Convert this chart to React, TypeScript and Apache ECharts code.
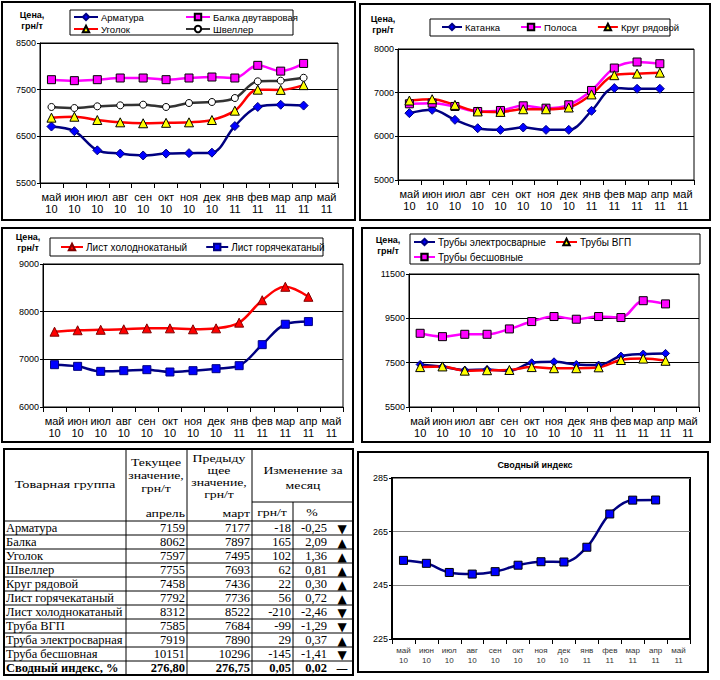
import React, { useEffect, useRef } from 'react';
import * as echarts from 'echarts';

const months = ['май\n10', 'июн\n10', 'июл\n10', 'авг\n10', 'сен\n10', 'окт\n10', 'ноя\n10', 'дек\n10', 'янв\n11', 'фев\n11', 'мар\n11', 'апр\n11', 'май\n11'];

// Panel 1
const armatura = [6710, 6610, 6200, 6130, 6090, 6130, 6140, 6150, 6720, 7130, 7177, 7159];
const balka = [7714, 7693, 7714, 7750, 7750, 7714, 7750, 7771, 7750, 8021, 7897, 8062];
const ugolok = [6900, 6920, 6850, 6800, 6780, 6790, 6800, 6850, 7050, 7500, 7495, 7597];
const shveller = [7129, 7107, 7143, 7164, 7179, 7129, 7214, 7236, 7321, 7679, 7693, 7755];
// Panel 2
const katanka = [6531, 6607, 6378, 6186, 6148, 6202, 6148, 6148, 6584, 7105, 7089, 7089];
const polosa = [6745, 6760, 6684, 6569, 6592, 6699, 6645, 6722, 7051, 7564, 7702, 7663];
const krug = [6820, 6850, 6720, 6570, 6560, 6620, 6620, 6660, 6960, 7400, 7436, 7458];
// Panel 3
const listCold = [7580, 7610, 7620, 7630, 7650, 7650, 7630, 7650, 7770, 8240, 8522, 8312];
const listHot = [6888, 6853, 6748, 6762, 6783, 6734, 6762, 6804, 6867, 7308, 7736, 7792];
// Panel 4
const trubyElektro = [7420, 7314, 7163, 7193, 7133, 7495, 7540, 7420, 7390, 7797, 7890, 7919];
const trubyVGP = [7300, 7330, 7140, 7160, 7170, 7300, 7250, 7250, 7290, 7620, 7684, 7585];
const trubyBesh = [8825, 8674, 8780, 8780, 9022, 9354, 9581, 9460, 9581, 9535, 10296, 10151];
// Panel 6
const svodny = [254.3, 253.2, 249.8, 249.2, 250.1, 252.5, 253.8, 253.7, 259.2, 271.6, 276.75, 276.8];

// Table
const tableGroups = ['Арматура', 'Балка', 'Уголок', 'Швеллер', 'Круг рядовой', 'Лист горячекатаный', 'Лист холоднокатаный', 'Труба ВГП', 'Труба электросварная', 'Труба бесшовная', 'Сводный индекс, %'];
const tableCurrent = ['7159', '8062', '7597', '7755', '7458', '7792', '8312', '7585', '7919', '10151', '276,80'];
const tablePrev = ['7177', '7897', '7495', '7693', '7436', '7736', '8522', '7684', '7890', '10296', '276,75'];
const tableDiff = ['-18', '165', '102', '62', '22', '56', '-210', '-99', '29', '-145', '0,05'];
const tablePct = ['-0,25', '2,09', '1,36', '0,81', '0,30', '0,72', '-2,46', '-1,29', '0,37', '-1,41', '0,02'];
const tableTrend = ['▼', '▲', '▲', '▲', '▲', '▲', '▼', '▼', '▲', '▼', '—'];

const SANS = "'Liberation Sans', Arial, sans-serif";
const SERIF = "'Liberation Serif', 'Times New Roman', serif";

const NAVY = '#000080';
const BLUE = '#0000ff';
const MAG = '#ff00ff';
const RED = '#ff0000';
const YEL = '#ffff00';

function mkSeries(name: string, data: number[], idx: number, lineColor: string, symbol: string, fill: string, border: string, size: number) {
  return {
    name,
    type: 'line',
    data,
    xAxisIndex: idx,
    yAxisIndex: idx,
    smooth: 0.35,
    symbol,
    symbolSize: size,
    lineStyle: { color: lineColor, width: 2.5 },
    itemStyle: { color: fill, borderColor: border, borderWidth: 1 },
    emphasis: { disabled: true },
  };
}

function mkGrid(left: number, top: number, width: number, height: number, thick = false) {
  return { left, top, width, height, show: true, borderColor: '#000', borderWidth: thick ? 2 : 1, backgroundColor: 'transparent', containLabel: false };
}

function mkX(idx: number, small = false) {
  return {
    type: 'category',
    gridIndex: idx,
    data: months,
    boundaryGap: true,
    axisLine: { lineStyle: { color: '#000', width: small ? 2 : 1 } },
    axisTick: { show: true, interval: 0, length: 5, lineStyle: { color: '#000' } },
    axisLabel: {
      interval: 0,
      fontFamily: SANS,
      fontSize: small ? 8 : 11,
      lineHeight: small ? 10 : 12,
      color: small ? '#333' : '#000',
      margin: small ? 6 : 8,
    },
    splitLine: { show: false },
  };
}

function mkY(idx: number, min: number, max: number, interval: number, gridColor = '#000', small = false) {
  return {
    type: 'value',
    gridIndex: idx,
    min,
    max,
    interval,
    axisLine: { show: true, lineStyle: { color: '#000', width: small ? 2 : 1 } },
    axisTick: { show: true, length: 3, lineStyle: { color: '#000' } },
    axisLabel: { fontFamily: SANS, fontSize: 9, color: '#000', margin: 4, formatter: (v: number) => String(v) },
    splitLine: { show: true, lineStyle: { color: gridColor, width: 1 } },
  };
}

function legend(left: number, top: number, data: string[], orient: 'vertical' | 'horizontal', itemWidth: number, itemGap: number, fontSize: number) {
  return {
    left,
    top,
    orient,
    data,
    itemWidth,
    itemHeight: 8,
    itemGap,
    selectedMode: false,
    padding: 0,
    textStyle: { fontFamily: SANS, fontSize, color: '#000', lineHeight: 12, padding: [0, 0, 0, -2] },
  };
}

function rect(x: number, y: number, w: number, h: number, lw: number) {
  return { type: 'rect', shape: { x, y, width: w, height: h }, style: { fill: 'none', stroke: '#000', lineWidth: lw }, silent: true };
}

function hline(x1: number, x2: number, y: number, lw = 1) {
  return { type: 'line', shape: { x1, y1: y, x2, y2: y }, style: { stroke: '#000', lineWidth: lw }, silent: true };
}
function vline(x: number, y1: number, y2: number, lw = 1) {
  return { type: 'line', shape: { x1: x, y1, x2: x, y2 }, style: { stroke: '#000', lineWidth: lw }, silent: true };
}

function txt(text: string, x: number, y: number, font: string, align: string, valign: string, lineHeight?: number, scaleX = 1) {
  return {
    type: 'text',
    x,
    y,
    scaleX,
    silent: true,
    style: {
      text,
      font,
      fill: '#000',
      textAlign: align,
      align,
      textVerticalAlign: valign,
      verticalAlign: valign,
      lineHeight,
    },
  };
}

function buildTable() {
  const els: any[] = [];
  const colX = [4, 126, 187, 252, 293, 353];
  const top = 449;
  const subTop = 502;
  const headBottom = 521;
  const rowH = 14;
  const bottom = headBottom + tableGroups.length * rowH;
  els.push(rect(colX[0], top, colX[5] - colX[0], bottom - top, 2));
  els.push(vline(colX[1], top, bottom));
  els.push(vline(colX[2], top, bottom));
  els.push(vline(colX[3], top, bottom));
  els.push(vline(colX[4], subTop, bottom));
  els.push(hline(colX[3], colX[5], subTop));
  els.push(hline(colX[0], colX[5], headBottom));
  for (let i = 1; i < tableGroups.length; i++) {
    els.push(hline(colX[0], colX[5], headBottom + i * rowH));
  }
  const hf = `11px ${SERIF}`;
  const sx = 1.25;
  els.push(txt('Товарная группа', 65, 485, hf, 'center', 'middle', undefined, 1.3));
  els.push(txt('Текущее\nзначение,\nгрн/т', 156, 456, hf, 'center', 'top', 13, sx));
  els.push(txt('апрель', 185, 513, hf, 'right', 'middle', undefined, sx));
  els.push(txt('Предыду\nщее\nзначение,\nгрн/т', 219, 452, hf, 'center', 'top', 12, sx));
  els.push(txt('март', 250, 513, hf, 'right', 'middle', undefined, sx));
  els.push(txt('Изменение за\nмесяц', 303, 463, hf, 'center', 'top', 15, sx));
  els.push(txt('грн/т', 272, 512, hf, 'center', 'middle', undefined, sx));
  els.push(txt('%', 312, 512, hf, 'center', 'middle', undefined, sx));
  for (let i = 0; i < tableGroups.length; i++) {
    const y = headBottom + i * rowH + 7.5;
    const last = i === tableGroups.length - 1;
    const f = `${last ? 'bold ' : ''}12px ${SERIF}`;
    const s = 1.04;
    els.push(txt(tableGroups[i], 6, y, f, 'left', 'middle', undefined, s));
    els.push(txt(tableCurrent[i], 185, y, f, 'right', 'middle', undefined, s));
    els.push(txt(tablePrev[i], 250, y, f, 'right', 'middle', undefined, s));
    els.push(txt(tableDiff[i], 291, y, f, 'right', 'middle', undefined, s));
    els.push(txt(tablePct[i], 327, y, f, 'right', 'middle', undefined, s));
    els.push(txt(tableTrend[i], 342, y, `12px 'DejaVu Sans', sans-serif`, 'center', 'middle'));
  }
  return els;
}

export default function App() {
  const ref = useRef<HTMLDivElement>(null);
  useEffect(() => {
    if (!ref.current) return;
    const chart = echarts.init(ref.current, null, { renderer: 'svg' });
    const labelFont = `bold 9px ${SANS}`;
    const option: any = {
      animation: false,
      backgroundColor: '#fff',
      grid: [
        mkGrid(40, 43, 298, 140),
        mkGrid(398, 49, 296, 131),
        mkGrid(43, 264, 300, 143),
        mkGrid(409, 274, 290, 133),
        mkGrid(392, 478, 298, 161, true),
      ],
      xAxis: [mkX(0), mkX(1), mkX(2), mkX(3), mkX(4, true)],
      yAxis: [
        mkY(0, 5500, 8500, 1000),
        mkY(1, 5000, 8000, 1000),
        mkY(2, 6000, 9000, 1000),
        mkY(3, 5500, 11500, 2000),
        mkY(4, 225, 285, 20, '#808080', true),
      ],
      legend: [
        legend(73, 11, ['Арматура', 'Уголок'], 'vertical', 24, 0, 9.5),
        legend(185, 11, ['Балка двутавровая', 'Швеллер'], 'vertical', 24, 0, 9.5),
        legend(441, 21, ['Катанка', 'Полоса', 'Круг рядовой'], 'horizontal', 20, 20, 9.5),
        legend(60, 241, ['Лист холоднокатаный', 'Лист горячекатаный'], 'horizontal', 22, 18, 10),
        legend(413, 236, ['Трубы электросварные', 'Трубы бесшовные'], 'vertical', 21, 3, 10),
        legend(555, 236, ['Трубы ВГП'], 'vertical', 21, 3, 10),
      ],
      series: [
        mkSeries('Арматура', armatura, 0, NAVY, 'diamond', BLUE, NAVY, 9),
        mkSeries('Балка двутавровая', balka, 0, MAG, 'rect', MAG, '#000', 8),
        mkSeries('Уголок', ugolok, 0, RED, 'triangle', YEL, '#000', 9),
        mkSeries('Швеллер', shveller, 0, '#333333', 'circle', '#fff', '#000', 7),
        mkSeries('Катанка', katanka, 1, NAVY, 'diamond', BLUE, NAVY, 9),
        mkSeries('Полоса', polosa, 1, MAG, 'rect', MAG, '#000', 8),
        mkSeries('Круг рядовой', krug, 1, RED, 'triangle', YEL, '#000', 9),
        mkSeries('Лист холоднокатаный', listCold, 2, RED, 'triangle', RED, '#800000', 9),
        mkSeries('Лист горячекатаный', listHot, 2, NAVY, 'rect', BLUE, NAVY, 8),
        mkSeries('Трубы электросварные', trubyElektro, 3, NAVY, 'diamond', BLUE, NAVY, 8),
        mkSeries('Трубы ВГП', trubyVGP, 3, RED, 'triangle', YEL, '#000', 9),
        mkSeries('Трубы бесшовные', trubyBesh, 3, MAG, 'rect', MAG, '#000', 8),
        mkSeries('Сводный индекс', svodny, 4, NAVY, 'rect', BLUE, '#000', 8),
      ],
      graphic: [
        { type: 'group', silent: true, children: [
          rect(2, 2, 353, 218, 2),
          rect(360, 4, 350, 216, 2),
          rect(2, 228, 351, 214, 2),
          rect(362, 228, 348, 214, 2),
          rect(358, 452, 350, 220, 2),
          rect(70, 10, 223, 25, 1),
          rect(430, 19, 240, 17, 1),
          rect(50, 238, 273, 18, 1),
          rect(410, 234, 290, 30, 1),
          txt('Цена,\nгрн/т', 32, 9, labelFont, 'center', 'top', 11),
          txt('Цена,\nгрн/т', 383, 13, labelFont, 'center', 'top', 11),
          txt('Цена,\nгрн/т', 28, 231, labelFont, 'center', 'top', 11),
          txt('Цена,\nгрн/т', 388, 234, labelFont, 'center', 'top', 11),
          txt('Сводный индекс', 535, 465, labelFont, 'center', 'middle'),
          ...buildTable(),
        ] },
      ],
    };
    chart.setOption(option);
    return () => chart.dispose();
  }, []);
  return <div ref={ref} style={{ position: 'absolute', left: 0, top: 0, width: 720, height: 680, background: '#fff' }} />;
}
